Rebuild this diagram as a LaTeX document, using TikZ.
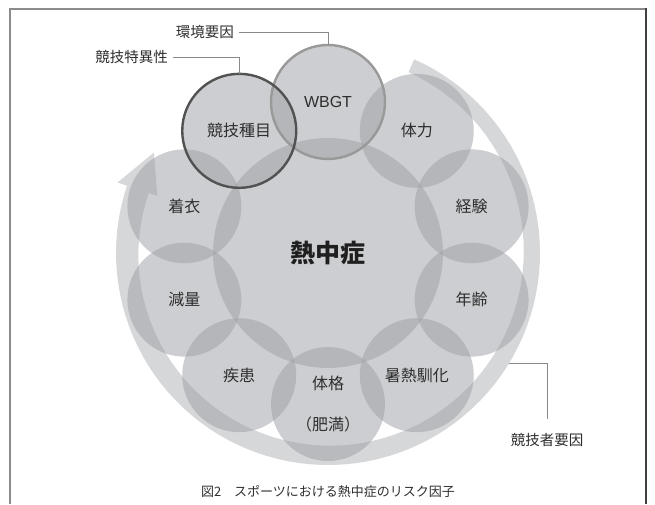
\documentclass[tikz,border=0pt]{standalone}
\usepackage{fontspec}
\setmainfont{Noto Sans CJK JP}
\newfontfamily\latinfont{Liberation Sans}
\usetikzlibrary{calc}
\definecolor{ringc}{HTML}{D6D7D9}
\definecolor{bubblec}{HTML}{9C9EA3}
\definecolor{txt}{HTML}{2E2E2E}
\definecolor{leader}{HTML}{8A8A8A}
\begin{document}
\begin{tikzpicture}[x=1pt,y=1pt,
  bubble/.style={circle, minimum size=114pt, inner sep=0pt, fill=bubblec, fill opacity=0.5, text opacity=1, text=txt, align=center, font=\fontsize{16}{19}\selectfont},
  ann/.style={text=txt, font=\fontsize{14.5}{17}\selectfont, inner sep=2pt},
  leaderline/.style={draw=leader, line width=0.9pt}]
\useasboundingbox (0,0) rectangle (655,504);
% frame
\draw[line width=1.2pt, draw=black!45] (10,0) -- (10,495) -- (646,495);
\draw[line width=1.5pt, draw=black!75] (646,495.6) -- (646,0);
\coordinate (C) at (328,251);
% ring arrow
\fill[ringc, shift={(328,251)}]
  (66:198) -- plot[domain=0:264.5, samples=90] ({66-\x}:212)
  -- (-198.5:222) -- (-210:201) -- (-198.5:180)
  -- plot[domain=0:264.5, samples=90] ({-198.5+\x}:{189+\x*9/264.5}) -- cycle;
% central circle
\node[bubble, minimum size=230pt] (heat) at (C) {\fontsize{25}{28}\selectfont\bfseries\color{black!88}熱中症};
% ring of factors
\node[bubble] (wbgt)   at ($(C)+(90:151)$)  {\latinfont WBGT};
\node[bubble] (sport)  at ($(C)+(126:151)$) {競技種目};
\node[bubble] (cloth)  at ($(C)+(162:151)$) {着衣};
\node[bubble] (weight) at ($(C)+(198:151)$) {減量};
\node[bubble] (ill)    at ($(C)+(234:151)$) {疾患};
\node[bubble] (body)   at ($(C)+(270:151)$) {体格\\[22pt]（肥満）};
\node[bubble] (accl)   at ($(C)+(306:151)$) {暑熱馴化};
\node[bubble] (age)    at ($(C)+(342:151)$) {年齢};
\node[bubble] (exp)    at ($(C)+(18:151)$)  {経験};
\node[bubble] (fit)    at ($(C)+(54:151)$)  {体力};
% outlines
\draw[draw=black!40, line width=2.4pt] (wbgt.center) circle[radius=57];
\draw[draw=black!68, line width=2.4pt] (sport.center) circle[radius=57];
% annotations
\node[ann, anchor=east] (envlab) at (236,472) {環境要因};
\node[ann, anchor=east] (speclab) at (170,447) {競技特異性};
\node[ann] (athlab) at (547,64) {競技者要因};
\coordinate (ringpt) at ($(C)+(-31.3:212)$);
\draw[leaderline] ([xshift=3pt]envlab.east) -| (wbgt.north);
\draw[leaderline] ([xshift=3pt]speclab.east) -| (sport.north);
\draw[leaderline] (ringpt) -| ([yshift=12pt]athlab.north);
% caption
\node[text=txt, font=\fontsize{13}{15}\selectfont] (cap) at (328,12) {図2　スポーツにおける熱中症のリスク因子};
\end{tikzpicture}
\end{document}
